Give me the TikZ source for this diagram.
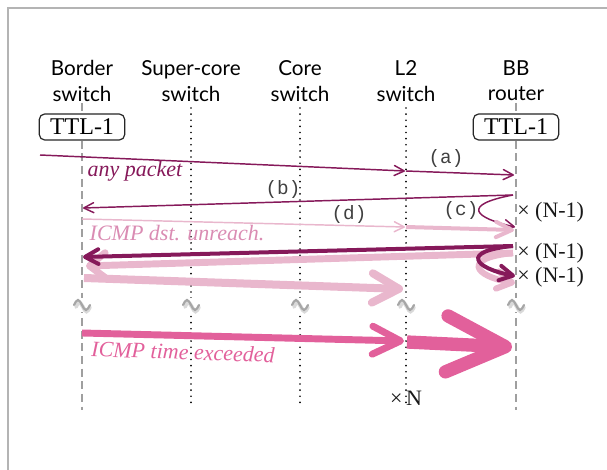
\documentclass[tikz,border=0pt]{standalone}
\usepackage{fontspec}
\setmainfont{Liberation Serif}
\newfontfamily\hdrfamily{Lato}
\newfontfamily\ttfam{Liberation Mono}
\usetikzlibrary{arrows.meta}
\definecolor{darkmag}{HTML}{86195A}
\definecolor{lightpink}{HTML}{E9B7CD}
\definecolor{unrpink}{HTML}{DA8CB3}
\definecolor{hotpink}{HTML}{E2609B}
\definecolor{framegray}{HTML}{B4B4B4}
\tikzset{
  hdr/.style={font=\hdrfamily\fontsize{15.5}{19}\selectfont, align=center, inner sep=0pt, text=black},
  ttlbox/.style={draw=black!85, rounded corners=4pt, line width=0.9pt, font=\fontsize{18}{18}\selectfont,
                 minimum width=64pt, minimum height=19.5pt, inner sep=0pt, fill=white},
  grayline/.style={draw=gray!75, line width=1.1pt, dash pattern=on 6pt off 3.5pt},
  dotline/.style={draw=black, line width=1.4pt, line cap=round, dash pattern=on 0pt off 4.6pt},
  brkshadow/.style={draw=gray!30, line width=2.8pt, line cap=round},
  brk/.style={draw=gray!70, line width=1.6pt, line cap=round},
  lbl/.style={font=\itshape\fontsize{16.5}{16.5}\selectfont, inner sep=0pt},
  tlbl/.style={font=\ttfam\fontsize{14.5}{14.5}\selectfont, inner sep=0pt, text=black!75},
  cnt/.style={font=\fontsize{16.5}{16.5}\selectfont, inner sep=0pt, text=black!90},
  thin/.style={darkmag, line width=1.1pt, -{Straight Barb[length=7.5pt,width=7.5pt,round]}},
  dthick/.style={darkmag, line width=3pt, -{Straight Barb[length=10pt,width=11pt,round]}},
  pthinarr/.style={lightpink, line width=1.1pt, -{Straight Barb[length=7.5pt,width=7.5pt,round]}},
  pmidarr/.style={lightpink, line width=3pt, -{Straight Barb[length=12pt,width=11.5pt,round]}},
  pthick/.style={lightpink, line width=5.2pt, -{Straight Barb[length=12pt,width=19pt,round]}},
  pbig/.style={lightpink, line width=6pt, -{Straight Barb[length=20pt,width=22pt,round]}},
  hotmid/.style={hotpink, line width=5.2pt, -{Straight Barb[length=21pt,width=21pt,round]}},
  hotbig/.style={hotpink, line width=10pt, -{Straight Barb[length=44pt,width=42pt,round]}},
}
\begin{document}
\begin{tikzpicture}[x=0.75pt,y=-0.75pt]
\useasboundingbox (0,0) rectangle (607,470);
% frame
\draw[framegray, line width=1.2pt] (8,470) -- (8,8) -- (607,8);

% headers
\node[hdr] (hB) at (82,81) {Border\\switch};
\node[hdr] (hS) at (191,81) {Super-core\\switch};
\node[hdr] (hC) at (300,81) {Core\\switch};
\node[hdr] (hL) at (406,81) {L2\\switch};
\node[hdr] (hR) at (516,81) {BB\\router};

% TTL boxes
\node[ttlbox] (tB) at (82,127) {TTL-1};
\node[ttlbox] (tR) at (516,127) {TTL-1};

% lifeline coordinates
\coordinate (B0) at (82,103);  \coordinate (B1) at (82,410);
\coordinate (R0) at (516,103); \coordinate (R1) at (516,410);
\coordinate (S0) at (191,108); \coordinate (S1) at (191,408);
\coordinate (C0) at (300,108); \coordinate (C1) at (300,408);
\coordinate (L0) at (406,108); \coordinate (L1) at (406,408);

\draw[grayline] (B0) -- (tB.north);
\draw[grayline] (tB.south) -- (B1);
\draw[grayline] (R0) -- (tR.north);
\draw[grayline] (tR.south) -- (R1);
\draw[dotline] (S0) -- (S1);
\draw[dotline] (C0) -- (C1);
\draw[dotline] (L0) -- (L1);

% break marks
\foreach \x in {82,191,300,406,516}{
  \fill[white] (\x-9,298) rectangle (\x+9,312);
  \draw[brkshadow] (\x-6,307) sin (\x-3,302.5) cos (\x+1,307) sin (\x+4.5,311.5) cos (\x+8,307);
  \draw[brk] (\x-8,305) sin (\x-4,300) cos (\x,305) sin (\x+4,310) cos (\x+8,305);
}

% (a) any packet
\coordinate (a0) at (40,155);
\coordinate (aL) at (405,171);
\coordinate (aL2) at (406,171);
\coordinate (aR) at (514,175);
\draw[thin] (a0) -- (aL);
\draw[thin] (aL2) -- (aR);
\node[lbl, text=darkmag] (anyp) at (135,171) {any packet};
\node[tlbl] (la) at (446,159) {(a)};

% (b)
\coordinate (bR) at (513,195);
\coordinate (bB) at (83,208);
\draw[thin] (bR) -- (bB);
\node[tlbl] (lb) at (283,190) {(b)};

% (c)
\coordinate (cR) at (515,227);
\draw[thin] (bR) .. controls (460,205) and (475,218) .. (cR);
\node[tlbl] (lc) at (461,211) {(c)};
\node[cnt, anchor=west] (n1) at (517,212) {× (N-1)};

% (d) ICMP dst. unreach.
\coordinate (dB) at (82,219);
\coordinate (dL) at (405,227);
\coordinate (dL2) at (406,227);
\coordinate (dR) at (514,230);
\draw[pthinarr] (dB) -- (dL);
\draw[pmidarr] (dL2) -- (dR);
\node[tlbl] (ld) at (349,215) {(d)};
\node[lbl, text=unrpink] (unr) at (177,233) {ICMP dst. unreach.};

% pink thick leftward + loop
\coordinate (pR) at (513,253);
\coordinate (pB) at (86,266);
\coordinate (pR2) at (515,283);
\draw[pthick] (pR) -- (pB);
\draw[lightpink, line width=4.6pt, -{Straight Barb[length=11pt,width=13pt,round]}] (pR) .. controls (462,258) and (474,276) .. (pR2);

% dark thick leftward + loop
\coordinate (qR) at (513,246);
\coordinate (qB) at (83,257);
\coordinate (qR2) at (515,276);
\draw[dthick] (qR) -- (qB);
\draw[dthick] (qR) .. controls (460,251) and (474,268) .. (qR2);
\node[cnt, anchor=west] (n2) at (517,253) {× (N-1)};
\node[cnt, anchor=west] (n3) at (517,277) {× (N-1)};

% pink thick to L2
\coordinate (eB) at (84,278);
\coordinate (eL) at (403,289);
\draw[pbig] (eB) -- (eL);

% ICMP time exceeded
\coordinate (fB) at (82,333);
\coordinate (fL) at (404,341);
\coordinate (fL2) at (407,342);
\coordinate (fR) at (512,347);
\draw[hotmid] (fB) -- (fL);
\draw[hotbig] (fL2) -- (fR);
\node[lbl, text=hotpink, rotate=-2] (tex) at (183,352) {ICMP time exceeded};

\node[cnt] (xN) at (406,398) {×\,N};
\end{tikzpicture}
\end{document}
